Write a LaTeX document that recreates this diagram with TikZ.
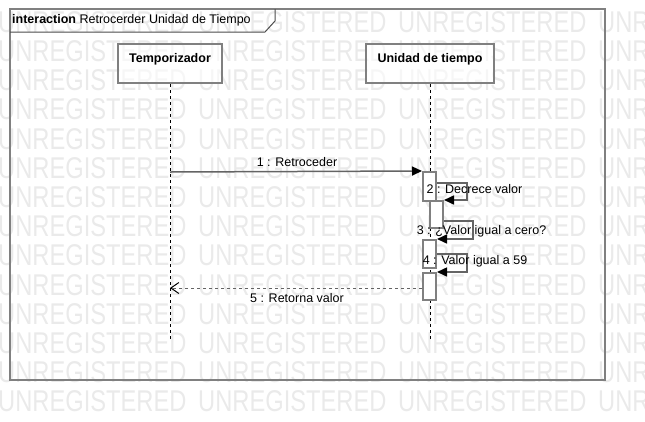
\documentclass[tikz,border=0pt]{standalone}
\usepackage{fontspec}
\setmainfont{Liberation Sans}
\newfontfamily\wmfont[FakeStretch=0.79]{Liberation Sans}
\usetikzlibrary{arrows.meta}
\definecolor{framegray}{RGB}{128,128,128}
\definecolor{linegray}{RGB}{100,100,100}
\definecolor{wmgray}{RGB}{234,234,234}

\begin{document}
\begin{tikzpicture}[x=1pt, y=-1pt, font=\fontsize{12.5}{15}\selectfont,
    watermark/.style={text=wmgray, inner sep=0, font=\wmfont\fontsize{30}{30}\selectfont},
    lifehead/.style={draw=framegray, line width=2pt, fill=white, fill opacity=0.6, text opacity=1,
        inner xsep=0, inner ysep=0, minimum height=39, text height=18pt, text depth=21pt,
        font=\fontsize{12.5}{15}\selectfont\bfseries},
    lifeline/.style={draw=black, line width=1pt, dash pattern=on 3pt off 3pt},
    bar/.style={draw=framegray, line width=2pt, fill=white, minimum width=13, inner sep=0},
    msg/.style={draw=linegray, line width=1.5pt, -{Triangle[length=10pt, width=9pt, color=black]}},
    reply/.style={draw=linegray, line width=1pt, dash pattern=on 3pt off 3pt,
        -{Straight Barb[length=8pt, width=11pt, color=black, line width=1pt]}},
    msglabel/.style={inner sep=0, text=black}]
    \useasboundingbox (0,0) rectangle (645,421);
    \clip (0,0) rectangle (645,421);

    \pgfmathsetmacro{\leftCol}{170}
    \pgfmathsetmacro{\rightCol}{430}

    % watermark rows behind everything
    \foreach \r in {0,...,13}
    \foreach \c in {0,...,3}
    \node[watermark, anchor=west] (wm\r-\c) at (200*\c-2, 22+29.2*\r) {UNREGISTERED};

    % frame and its title tab
    \draw[framegray, line width=2pt] (10,9) rectangle (605,380);
    \node[anchor=west, inner sep=0] (title) at (12,20.5) {\textbf{interaction} Retrocerder Unidad de Tiempo};
    \draw[black!70, line width=1pt] (10,32) -- (265,32) -- (275,21) -- (275,9);

    % lifelines
    \node[lifehead, minimum width=104] (temp) at (\leftCol, 63.5) {Temporizador};
    \node[lifehead, minimum width=128] (unidad) at (\rightCol, 63.5) {Unidad de tiempo};
    \coordinate (tempEnd) at (\leftCol, 339);
    \coordinate (unidadEnd) at (\rightCol, 339);
    \draw[lifeline] (temp) -- (tempEnd);
    \draw[lifeline] (unidad) -- (unidadEnd);

    % activation bars
    \node[bar, minimum height=29] (bar1) at (429.5, 186.5) {};
    \node[bar, minimum height=27] (bar2) at (436.5, 214.5) {};
    \node[bar, minimum height=28] (bar3) at (429.5, 254) {};
    \node[bar, minimum height=27] (bar4) at (429.5, 286.5) {};

    % messages
    \coordinate (m1) at (\leftCol, 172);
    \draw[msg] (m1) -- (bar1.north west);
    \draw[msg] ([yshift=3.5pt]bar1.east) -- ++(30,0) |- (bar2.north east);
    \draw[msg] ([yshift=-6.5pt]bar2.east) -- ++(29,0) |- (bar3.north east);
    \draw[msg] (bar3.east) -- ++(30,0) |- (bar4.north east);
    \draw[reply] ([yshift=-1.5pt]bar4.west) -- ([yshift=-1.5pt]bar4.west -| tempEnd);

    % message labels
    \node[msglabel] (l1) at (297, 162) {1 : Retroceder};
    \node[msglabel] (l2) at (474.5, 189) {2 : Decrece valor};
    \node[msglabel] (l3) at (481.5, 231) {3 : ¿Valor igual a cero?};
    \node[msglabel] (l4) at (475, 261) {4 : Valor igual a 59};
    \node[msglabel] (l5) at (297, 298) {5 : Retorna valor};
\end{tikzpicture}
\end{document}
